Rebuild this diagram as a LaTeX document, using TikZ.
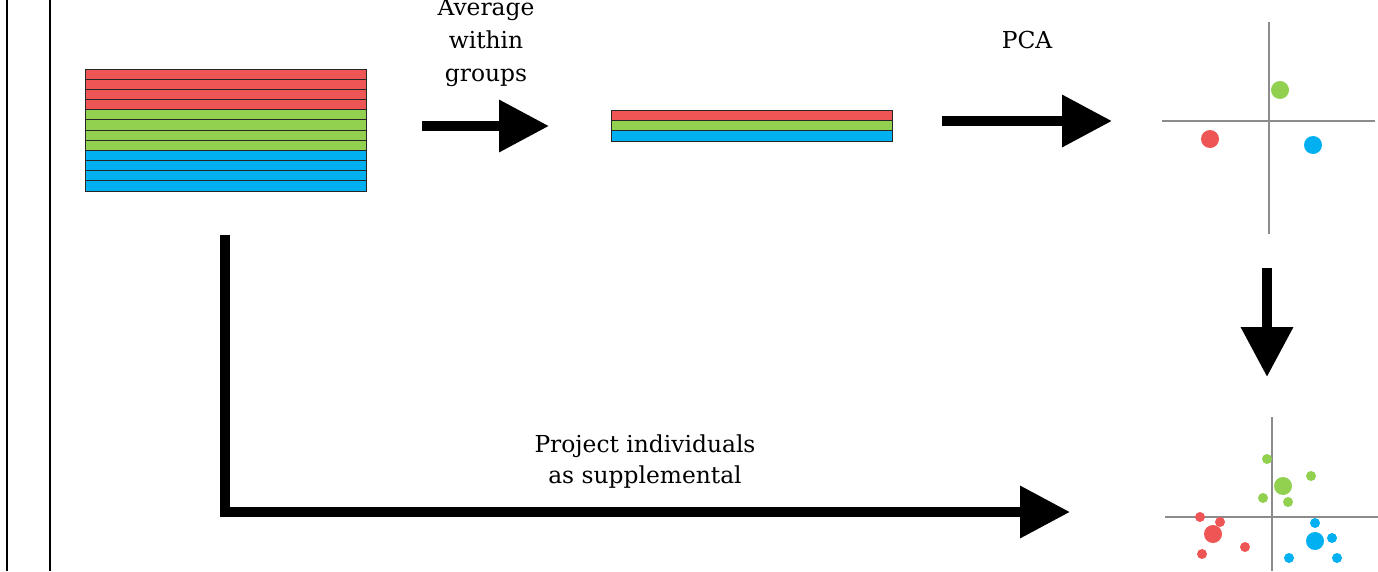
\documentclass[tikz,border=0pt]{standalone}
\usepackage{fontspec}
\setmainfont{DejaVu Serif}
\usetikzlibrary{arrows.meta}
\definecolor{grpred}{RGB}{238,86,86}
\definecolor{grpgreen}{RGB}{146,208,80}
\definecolor{grpblue}{RGB}{0,176,240}
\tikzset{
  bigarrow/.style={line width=0.2cm, -{Triangle[length=1cm,width=1cm]}},
  stripe/.style={draw=black!85, line width=0.5pt},
  axis/.style={draw=black!45, line width=0.6pt},
  lbl/.style={font=\fontsize{13.3pt}{19pt}\selectfont, align=center, inner sep=0pt},
}
\begin{document}
\begin{tikzpicture}[x=0.02cm,y=-0.02cm]
    \useasboundingbox (0,0) rectangle (1378,571);
    % frame lines on the left
    \draw[line width=1.2pt] (7,0) -- (7,571);
    \draw[line width=1.2pt] (50,0) -- (50,571);
    % individuals, one stripe each
    \foreach \i/\c in {0/grpred,1/grpred,2/grpred,3/grpred,4/grpgreen,5/grpgreen,6/grpgreen,7/grpgreen,8/grpblue,9/grpblue,10/grpblue,11/grpblue}
        \filldraw[stripe, fill=\c] (85,{69+\i*10.17}) rectangle (366,{79.17+\i*10.17});
    % group means
    \foreach \i/\c in {0/grpred,1/grpgreen,2/grpblue}
        \filldraw[stripe, fill=\c] (611,{110+\i*10.33}) rectangle (892,{120.33+\i*10.33});
    % arrows
    \coordinate (avg-start) at (422,126);
    \coordinate (avg-end) at (549,126);
    \coordinate (pca-start) at (942,121);
    \coordinate (pca-end) at (1112,121);
    \coordinate (down-start) at (1267,268);
    \coordinate (down-end) at (1267,377);
    \coordinate (proj-start) at (225,235);
    \coordinate (proj-end) at (1070,512);
    \draw[bigarrow] (avg-start) -- (avg-end);
    \draw[bigarrow] (pca-start) -- (pca-end);
    \draw[bigarrow] (down-start) -- (down-end);
    \draw[bigarrow] (proj-start) |- (proj-end);
    \node[lbl, anchor=base] (avg-lbl) at (486,82) {Average\\within\\groups};
    \node[lbl, anchor=base] (pca-lbl) at (1027,49) {PCA};
    \node[lbl, anchor=base, font=\fontsize{13.3pt}{17.6pt}\selectfont] (proj-lbl) at (645,483) {Project individuals\\as supplemental};
    % PCA on the means
    \draw[axis] (1162,121) -- (1375,121);
    \draw[axis] (1269,22) -- (1269,234);
    \fill[grpgreen] (1280,90) circle[radius=9];
    \fill[grpred] (1210,139) circle[radius=9];
    \fill[grpblue] (1313,145) circle[radius=9];
    % individuals projected
    \draw[axis] (1165,517) -- (1378,517);
    \draw[axis] (1272,417) -- (1272,571);
    \foreach \c/\x/\y/\r in {grpgreen/1267/459/5, grpgreen/1311/476/5, grpgreen/1283/486/9, grpgreen/1263/498/5, grpgreen/1288/502/5,
        grpred/1200/517/5, grpred/1220/522/5, grpred/1213/534/9, grpred/1245/547/5, grpred/1202/554/5,
        grpblue/1315/523/5, grpblue/1315/541/9, grpblue/1332/538/5, grpblue/1289/558/5, grpblue/1337/558/5}
        \fill[\c] (\x,\y) circle[radius=\r];
\end{tikzpicture}
\end{document}
